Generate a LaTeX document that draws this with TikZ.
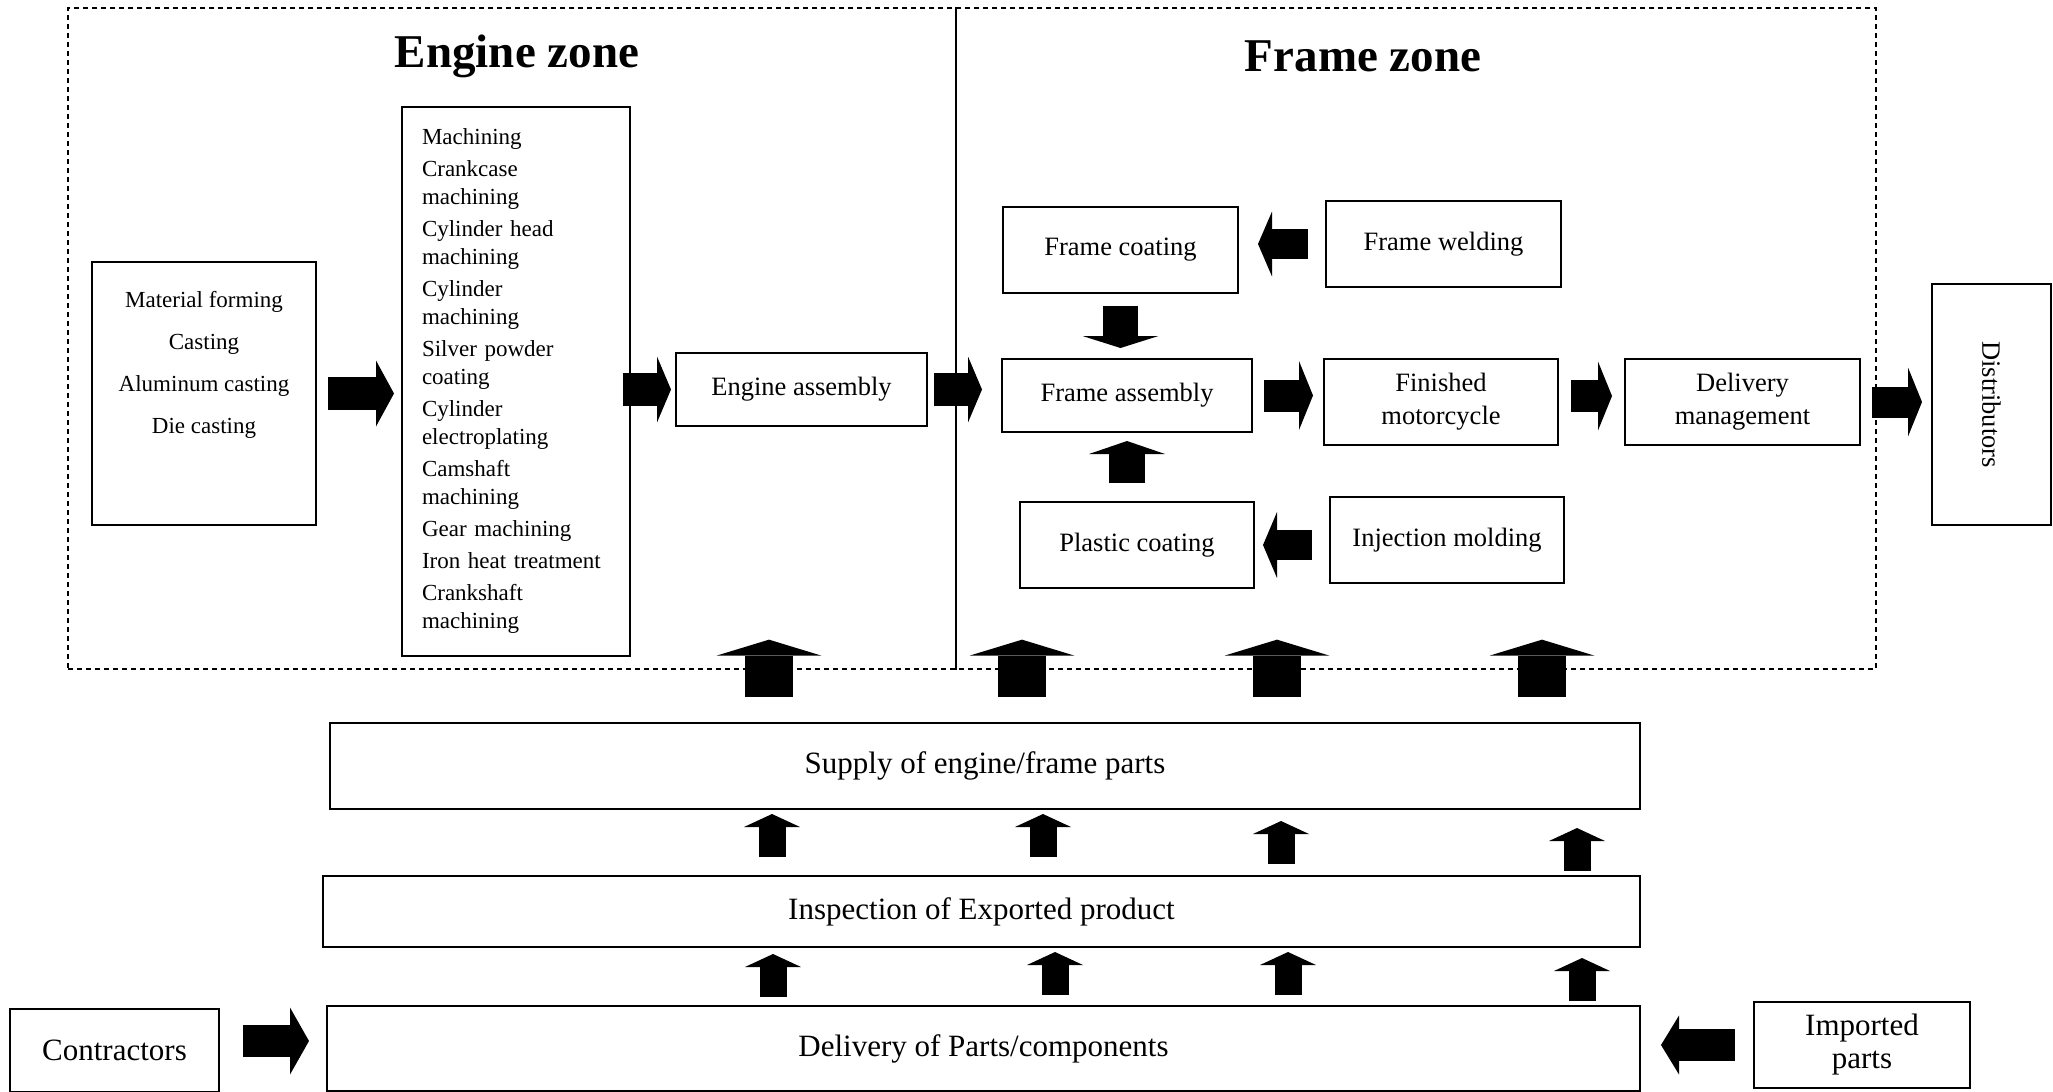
\documentclass[tikz,border=0pt]{standalone}
\usepackage{fontspec}
\setmainfont{Liberation Serif}
\usepackage{graphicx}
\usetikzlibrary{arrows.meta,positioning}
\tikzset{every node/.style={inner sep=0pt}, % text sits right on the box
        box/.style={ % plain process box
            draw,
            line width=2pt,
            align=center,
            font=\fontsize{26.5}{33}\selectfont},
        smallbox/.style={box, font=\fontsize{23}{28}\selectfont},
        bigbox/.style={box, font=\fontsize{31}{33}\selectfont},
        boxsize/.style 2 args={minimum width=#1pt, minimum height=#2pt},
        zone title/.style={font=\fontsize{47}{50}\selectfont\bfseries},
        fat/.style n args={3}{ % shaft width, head width, head length
            line width=#1pt,
            -{Triangle[width=#2pt, length=#3pt, line width=0pt]}}
        }

\begin{document}
\begin{tikzpicture}[x=1pt, y=-1pt]
    \useasboundingbox (0,0) rectangle (2053,1092);

    % zones
    \node[draw, dash pattern=on 5pt off 4pt, line width=1.3pt, boxsize={1808}{661}] (zones) at (972,338.5) {};
    \draw[line width=1.2pt] (956,0 |- zones.north) -- (956,0 |- zones.south);
    \node[zone title] (engtitle) at (517,56) {Engine zone};
    \node[zone title] (frametitle) at (1363,56) {Frame zone};

    % engine zone
    \node[smallbox, boxsize={224}{263}] (mat) at (204,393.5)
        {Material forming\\[14pt]Casting\\[14pt]Aluminum casting\\[14pt]Die casting\\[34pt]\mbox{}};
    \node[smallbox, boxsize={228}{549}, align=left, text width=188pt] (mach) at (516,381.5)
        {Machining\\[4pt]Crankcase\\machining\\[4pt]Cylinder head\\machining\\[4pt]Cylinder\\machining\\[4pt]%
         Silver powder\\coating\\[4pt]Cylinder\\electroplating\\[4pt]Camshaft\\machining\\[4pt]%
         Gear machining\\[4pt]Iron heat treatment\\[4pt]Crankshaft\\machining};
    \node[box, boxsize={251}{73}] (eng) at (801.5,389.5) {Engine assembly};

    % frame zone
    \node[box, boxsize={235}{86}] (fcoat) at (1120.5,250) {Frame coating};
    \node[box, boxsize={235}{86}] (fweld) at (1443.5,244) {Frame welding};
    \node[box, boxsize={250}{73}] (fasm) at (1127,395.5) {Frame assembly};
    \node[box, boxsize={234}{86}] (fin) at (1441,402) {Finished\\motorcycle};
    \node[box, boxsize={235}{86}] (dlv) at (1742.5,402) {Delivery\\management};
    \node[box, boxsize={234}{86}] (plast) at (1137,545) {Plastic coating};
    \node[box, boxsize={234}{86}] (inj) at (1447,540) {Injection molding};
    \node[box, boxsize={119}{241}] (dist) at (1991.5,404.5) {\rotatebox{-90}{Distributors}};

    % supply chain
    \node[bigbox, boxsize={1310}{86}] (supply) at (985,766) {Supply of engine/frame parts};
    \node[bigbox, boxsize={1317}{71}] (insp) at (981.5,911.5) {Inspection of Exported product};
    \node[bigbox, boxsize={1313}{85}] (deliv) at (983.5,1048.5) {Delivery of Parts/components};
    \node[bigbox, boxsize={209}{83}] (contr) at (114.5,1050) {Contractors};
    \node[bigbox, boxsize={216}{86}] (imp) at (1862,1045) {Imported\\parts};

    % flow arrows
    \draw[fat={33}{66}{18}, shorten <=11pt, shorten >=7pt] (mat.east) -- (mat.east -| mach.west);
    \draw[fat={33}{66}{14}, shorten <=-8pt, shorten >=4pt] (eng.west -| mach.east) -- (eng.west);
    \draw[fat={33}{66}{14}, shorten <=6pt, shorten >=19pt] (eng.east) -- (eng.east -| fasm.west);
    \draw[fat={30}{65}{14}, shorten <=17pt, shorten >=19pt] (fweld.west) -- (fweld.west -| fcoat.east);
    \draw[fat={35}{76}{12}, shorten <=12pt, shorten >=10pt] (fcoat.south) -- (fcoat.south |- fasm.north);
    \draw[fat={32}{69}{14}, shorten <=11pt, shorten >=10pt] (fasm.east) -- (fasm.east -| fin.west);
    \draw[fat={32}{69}{14}, shorten <=12pt, shorten >=12pt] ([yshift=6pt]fin.east) -- ([yshift=6pt]dlv.west);
    \draw[fat={31}{69}{14}, shorten <=11pt, shorten >=9pt] (dlv.east) -- (dlv.east -| dist.west);
    \draw[fat={36}{76}{13}, shorten <=18pt, shorten >=8pt] (fasm.south |- plast.north) -- (fasm.south);
    \draw[fat={30}{66}{14}, shorten <=17pt, shorten >=8pt] (inj.west |- plast.east) -- (plast.east);

    \foreach \x in {769,1022,1277,1542}
        \draw[fat={48}{105}{16}, shorten <=25pt, shorten >=-30pt] (\x,0 |- supply.north) -- (\x,0 |- zones.south);
    \foreach \x/\s/\t in {772/4/18, 1043/4/18, 1281/11/11, 1577/18/4}
        \draw[fat={27}{56}{13}, shorten <=\t pt, shorten >=\s pt] (\x,0 |- insp.north) -- (\x,0 |- supply.south);
    \foreach \x/\s/\t in {773/6/8, 1055/4/10, 1288/4/10, 1582/10/4}
        \draw[fat={27}{56}{13}, shorten <=\t pt, shorten >=\s pt] (\x,0 |- deliv.north) -- (\x,0 |- insp.south);

    \draw[fat={32}{67}{19}, shorten <=23pt, shorten >=17pt] ([yshift=9pt]contr.east) -- ([yshift=9pt]contr.east -| deliv.west);
    \draw[fat={32}{59}{18}, shorten <=18pt, shorten >=20pt] (imp.west) -- (imp.west -| deliv.east);
\end{tikzpicture}
\end{document}
